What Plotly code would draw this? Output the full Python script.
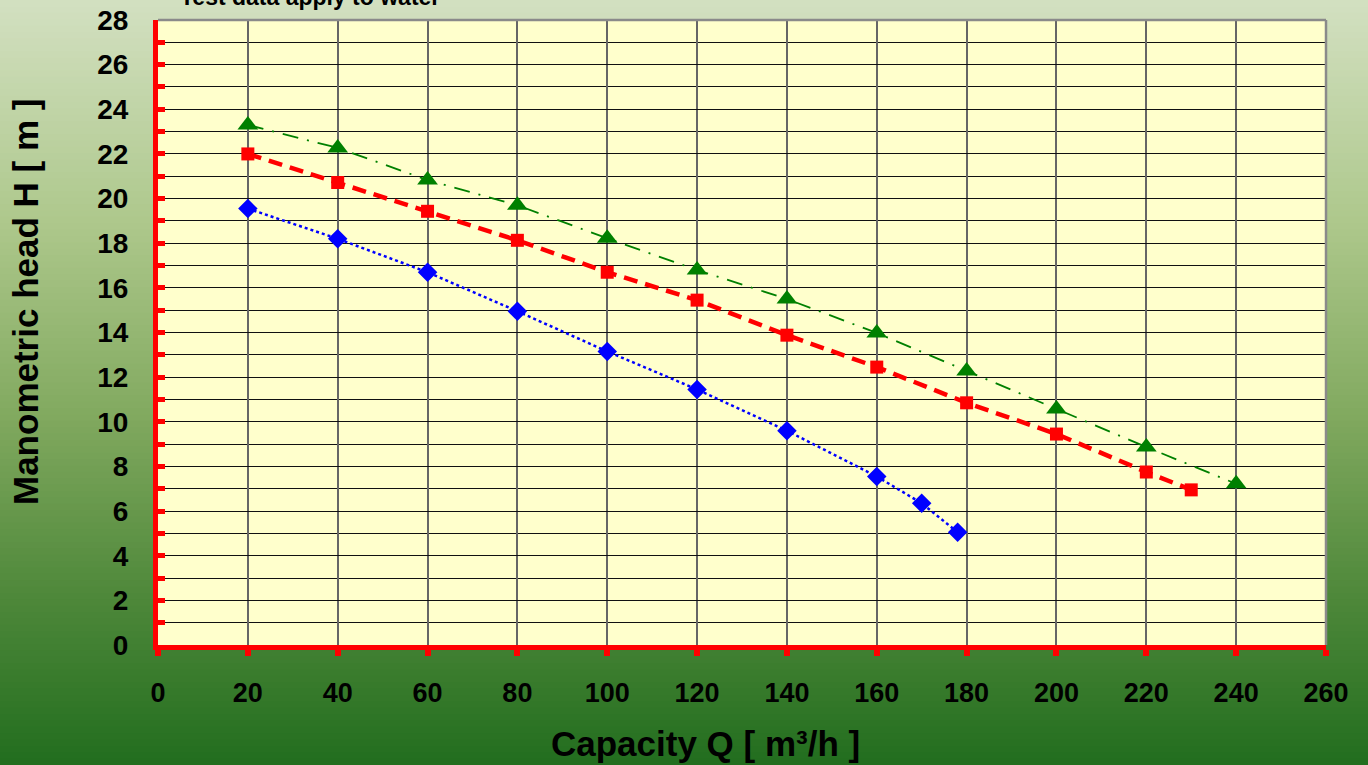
import plotly.graph_objects as go

# ---- data ----
q_blue = [20, 40, 60, 80, 100, 120, 140, 160, 170, 178]
h_blue = [19.55, 18.2, 16.7, 14.95, 13.15, 11.45, 9.6, 7.55, 6.35, 5.05]

q_red = [20, 40, 60, 80, 100, 120, 140, 160, 180, 200, 220, 230]
h_red = [22.0, 20.72, 19.43, 18.13, 16.7, 15.45, 13.88, 12.45, 10.85, 9.45, 7.75, 6.95]

q_green = [20, 40, 60, 80, 100, 120, 140, 160, 180, 200, 220, 240]
h_green = [23.3, 22.27, 20.83, 19.7, 18.22, 16.8, 15.5, 13.98, 12.28, 10.57, 8.87, 7.22]

x_ticks = list(range(0, 261, 20))
y_ticks = list(range(0, 29, 2))

FONT = "Arial, Liberation Sans, sans-serif"

fig = go.Figure()
fig.add_trace(go.Scatter(x=q_blue, y=h_blue, mode="lines+markers",
                         line=dict(color="#0000ff", width=2.5, dash="dot"),
                         marker=dict(symbol="diamond", size=15, color="#0000ff")))
fig.add_trace(go.Scatter(x=q_red, y=h_red, mode="lines+markers",
                         line=dict(color="#ff0000", width=4.5, dash="14px,8px"),
                         marker=dict(symbol="square", size=13, color="#ff0000")))
fig.add_trace(go.Scatter(x=q_green, y=h_green, mode="lines+markers",
                         line=dict(color="#008000", width=1.8, dash="16px,9px,2px,9px"),
                         marker=dict(symbol="triangle-up", size=18, color="#008000")))

# ---- background gradient (paper) ----
L, R, T, B = 158, 42, 20, 120
W, H = 1368 - L - R, 765 - T - B
px0, px1 = -L / W, 1 + R / W
py0, py1 = -B / H, 1 + T / H
stops = [(0.0, (211, 224, 193)), (0.3, (172, 199, 138)), (0.55, (128, 168, 94)),
         (0.78, (78, 136, 58)), (1.0, (34, 110, 30))]

def col(t):
    for i in range(len(stops) - 1):
        a, ca = stops[i]
        b, cb = stops[i + 1]
        if a <= t <= b:
            f = (t - a) / (b - a)
            return "rgb(%d,%d,%d)" % tuple(round(ca[k] + (cb[k] - ca[k]) * f) for k in range(3))
    return "rgb(%d,%d,%d)" % stops[-1][1]

shapes = []
N = 120
for i in range(N):
    t0 = i / N
    t1 = (i + 1) / N
    y_top = py1 - (py1 - py0) * t0
    y_bot = py1 - (py1 - py0) * t1
    shapes.append(dict(type="rect", xref="paper", yref="paper", layer="below",
                       x0=px0, x1=px1, y0=y_bot - 0.002, y1=y_top + (0.01 if i == 0 else 0),
                       fillcolor=col((t0 + t1) / 2), line=dict(width=0)))
# plot area fill
shapes.append(dict(type="rect", xref="paper", yref="paper", layer="below",
                   x0=0, x1=1, y0=0, y1=1, fillcolor="#ffffcc", line=dict(width=0)))
# top and right gray border
shapes.append(dict(type="line", xref="paper", yref="paper", x0=0, x1=1, y0=1, y1=1,
                   line=dict(color="#8a8a8a", width=2.5)))
shapes.append(dict(type="line", xref="paper", yref="paper", x0=1, x1=1, y0=0, y1=1,
                   line=dict(color="#8a8a8a", width=2.5)))

fig.update_layout(
    width=1368, height=765,
    margin=dict(l=L, r=R, t=T, b=B, autoexpand=False),
    paper_bgcolor="rgba(0,0,0,0)", plot_bgcolor="rgba(0,0,0,0)",
    showlegend=False,
    shapes=shapes,
    font=dict(family=FONT, color="black"),
    xaxis=dict(range=[0, 260], tickvals=x_ticks, ticktext=[str(v) for v in x_ticks],
               automargin=False,
               showgrid=True, gridcolor="#666666", gridwidth=1.5,
               showline=True, linecolor="#ff0000", linewidth=5,
               ticks="outside", ticklen=6, tickwidth=6, tickcolor="#ff0000",
               ticklabelstandoff=14,
               tickfont=dict(size=27, family=FONT, weight="bold", color="black"),
               zeroline=False, fixedrange=True),
    yaxis=dict(range=[0, 28], tickvals=y_ticks, ticktext=[str(v) for v in y_ticks],
               automargin=False,
               showgrid=True, gridcolor="#111111", gridwidth=1,
               minor=dict(dtick=1, showgrid=True, gridcolor="#111111", gridwidth=1,
                          ticks="inside", ticklen=7, tickwidth=5, tickcolor="#ff0000"),
               showline=True, linecolor="#ff0000", linewidth=5,
               ticks="inside", ticklen=7, tickwidth=5, tickcolor="#ff0000",
               ticklabelstandoff=19,
               tickfont=dict(size=28, family=FONT, weight="bold", color="black"),
               zeroline=False, fixedrange=True),
    annotations=[
        dict(text="Manometric head H [ m ]", xref="paper", yref="paper",
             x=(25 - L) / W, y=1 - (302 - T) / H, xanchor="center", yanchor="middle",
             textangle=-90, showarrow=False,
             font=dict(size=35, family=FONT, weight="bold", color="black")),
        dict(text="Capacity Q [ m³/h ]", xref="paper", yref="paper",
             x=(705 - L) / W, y=-(743 - 645) / H, xanchor="center", yanchor="middle",
             showarrow=False,
             font=dict(size=35, family=FONT, weight="bold", color="black")),
        dict(text="Test data apply to water", xref="paper", yref="paper",
             x=(178 - L) / W, y=1 + (T - 12) / H, xanchor="left", yanchor="bottom",
             showarrow=False,
             font=dict(size=23, family=FONT, weight="bold", color="black")),
    ],
)

fig.write_html("out.html",
               config={"displayModeBar": False},
               post_script="document.body.style.margin='0';"
                           "document.body.style.overflow='hidden';"
                           "document.documentElement.style.overflow='hidden';")
